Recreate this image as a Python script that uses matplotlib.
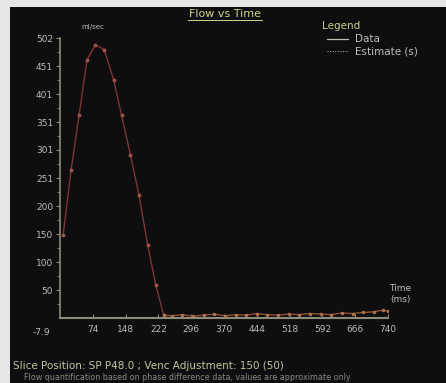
import numpy as np
import matplotlib
matplotlib.use('Agg')
import matplotlib.pyplot as plt
from matplotlib.lines import Line2D

# values
time_ms = [7, 25, 43, 61, 80, 100, 121, 139, 159, 178, 198, 216, 234,
           252, 276, 300, 324, 348, 372, 396, 420, 444, 468, 492, 516,
           540, 564, 588, 612, 636, 660, 684, 708, 728, 740]
flow = [148, 264, 362, 461, 488, 479, 425, 362, 291, 220, 130, 59, 5,
        4, 6, 3, 5, 7, 4, 6, 5, 8, 6, 5, 7, 6, 8, 7, 6, 9, 8, 10, 11, 14, 12]
x_ticks = [74, 148, 222, 296, 370, 444, 518, 592, 666, 740]
y_ticks = [50, 100, 150, 200, 250, 300, 350, 400, 450, 500]
y_labels = ['50', '100', '150', '200', '251', '301', '351', '401', '451', '502']

W, H = 446, 383
fig = plt.figure(figsize=(W / 100, H / 100), dpi=100)
fig.patch.set_facecolor('#e6e6e6')

# dark panel
bg = fig.add_axes([10 / W, 0, (W - 10) / W, (H - 7) / H])
bg.set_facecolor('#0e0e10')
bg.set_xticks([])
bg.set_yticks([])
for s in bg.spines.values():
    s.set_visible(False)

txt = '#bdbdb4'
axc = '#8c8c78'
fs = 6.5

ax = fig.add_axes([60 / W, (H - 318) / H, 328 / W, 280 / H])
ax.patch.set_alpha(0)
ax.plot(time_ms[:13], flow[:13], color='#7e3434', lw=1.0, marker='o', ms=1.8,
        mfc='#a05048', mec='#a05048')
ax.plot(time_ms[12:], flow[12:], color='#8a5232', lw=1.0, marker='o', ms=1.5,
        mfc='#b07048', mec='#b07048')
ax.set_xlim(0, 740)
ax.set_ylim(0, 500)
for side in ['top', 'right']:
    ax.spines[side].set_visible(False)
ax.spines['left'].set_color(axc)
ax.spines['bottom'].set_color(axc)
ax.spines['left'].set_linewidth(1.2)
ax.spines['bottom'].set_linewidth(1.5)
ax.set_xticks(x_ticks)
ax.set_xticklabels([str(v) for v in x_ticks])
ax.set_yticks(y_ticks)
ax.set_yticklabels(y_labels)
ax.set_yticks(np.arange(25, 500, 50), minor=True)
ax.tick_params(colors=txt, labelsize=fs, length=3, width=0.8, pad=2)
ax.tick_params(axis='y', which='minor', length=2, color=axc)
ax.tick_params(axis='both', which='major', color=axc)
ax.tick_params(axis='x', direction='in', pad=5)

ax.text(-0.03, -0.035, '-7.9', transform=ax.transAxes, color=txt, fontsize=fs,
        ha='right', va='top')
ax.text(0.1, 1.03, 'ml/sec', transform=ax.transAxes, color=txt, fontsize=5,
        ha='center', va='bottom')
fig.text(400 / W, 1 - 291 / H, 'Time', color=txt, fontsize=fs, ha='center')
fig.text(400 / W, 1 - 302 / H, '(ms)', color=txt, fontsize=fs, ha='center')

# title with underline
fig.text(225 / W, 1 - 14 / H, 'Flow vs Time', color='#d4d48a', fontsize=8,
         ha='center', va='center')
fig.lines.append(Line2D([188 / W, 262 / W], [1 - 20 / H, 1 - 20 / H],
                        transform=fig.transFigure, color='#d4d48a', lw=0.7))

# legend block
fig.text(322 / W, 1 - 26 / H, 'Legend', color='#c8d08a', fontsize=7.5, va='center')
fig.lines.append(Line2D([327 / W, 348 / W], [1 - 39 / H, 1 - 39 / H],
                        transform=fig.transFigure, color=txt, lw=0.9))
fig.text(355 / W, 1 - 39 / H, 'Data', color=txt, fontsize=7.5, va='center')
fig.lines.append(Line2D([327 / W, 348 / W], [1 - 51 / H, 1 - 51 / H],
                        transform=fig.transFigure, color=txt, lw=0.7, ls=':'))
fig.text(355 / W, 1 - 51 / H, 'Estimate (s)', color=txt, fontsize=7.5, va='center')

# footer
fig.text(13 / W, 1 - 366 / H, 'Slice Position: SP P48.0 ; Venc Adjustment: 150 (50)',
         color='#c4c4a0', fontsize=7.5, va='center')
fig.text(24 / W, 1 - 377 / H,
         'Flow quantification based on phase difference data, values are approximate only',
         color='#8a8a80', fontsize=5.8, va='center')

fig.savefig('out.png', dpi=100, facecolor=fig.get_facecolor())
